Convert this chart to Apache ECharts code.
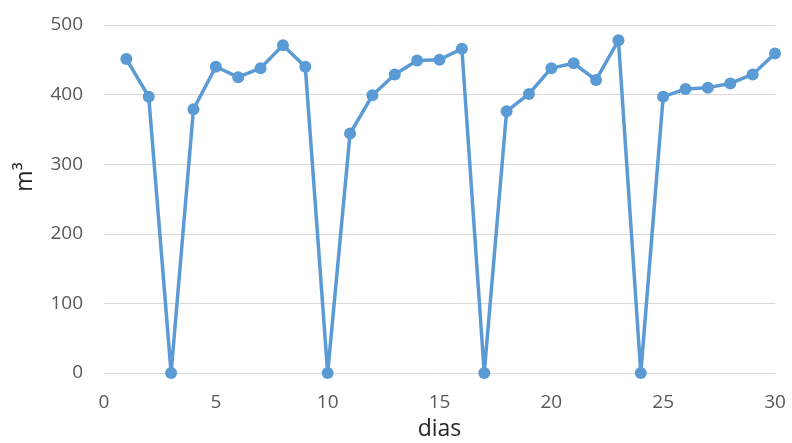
<!DOCTYPE html>
<html>
<head>
<meta charset="utf-8">
<script src="https://cdn.jsdelivr.net/npm/echarts@6/dist/echarts.min.js"></script>
<style>html,body{margin:0;padding:0;background:#fff;}#c{width:792px;height:443px;}</style>
</head>
<body>
<div id="c"></div>
<script>
const days = [1,2,3,4,5,6,7,8,9,10,11,12,13,14,15,16,17,18,19,20,21,22,23,24,25,26,27,28,29,30];
const volumes = [451,397,0,379,440,425,438,471,440,0,344,399,429,449,450,466,0,376,401,438,445,421,478,0,397,408,410,416,429,459];
const xTicks = {min:0, max:30, interval:5};
const yTicks = {min:0, max:500, interval:100};

const chart = echarts.init(document.getElementById('c'), null, {renderer:'canvas'});
chart.setOption({
  animation:false,
  grid:{left:104, right:17, top:25, bottom:70, containLabel:false, outerBoundsMode:'none'},
  xAxis:{
    type:'value', min:xTicks.min, max:xTicks.max, interval:xTicks.interval,
    name:'dias', nameLocation:'middle', nameGap:45,
    nameTextStyle:{fontFamily:'Open Sans', fontSize:23, color:'#262626'},
    axisLine:{show:true, lineStyle:{color:'#d9d9d9', width:1}},
    axisTick:{show:false},
    splitLine:{show:false},
    axisLabel:{fontFamily:'Open Sans', fontSize:19, color:'#595959', margin:20}
  },
  yAxis:{
    type:'value', min:yTicks.min, max:yTicks.max, interval:yTicks.interval,
    name:'m³', nameLocation:'middle', nameGap:67, nameRotate:90,
    nameTextStyle:{fontFamily:'Open Sans', fontSize:23, color:'#262626', padding:[0,0,0,44]},
    axisLine:{show:false},
    axisTick:{show:false},
    splitLine:{lineStyle:{color:'#d9d9d9', width:1}},
    axisLabel:{fontFamily:'Open Sans', fontSize:19, color:'#595959', margin:21}
  },
  series:[{
    type:'line',
    data: days.map((d,i)=>[d, volumes[i]]),
    symbol:'circle', symbolSize:12,
    lineStyle:{color:'#5b9bd5', width:3.5},
    itemStyle:{color:'#5b9bd5'}
  }]
});
</script>
</body>
</html>
